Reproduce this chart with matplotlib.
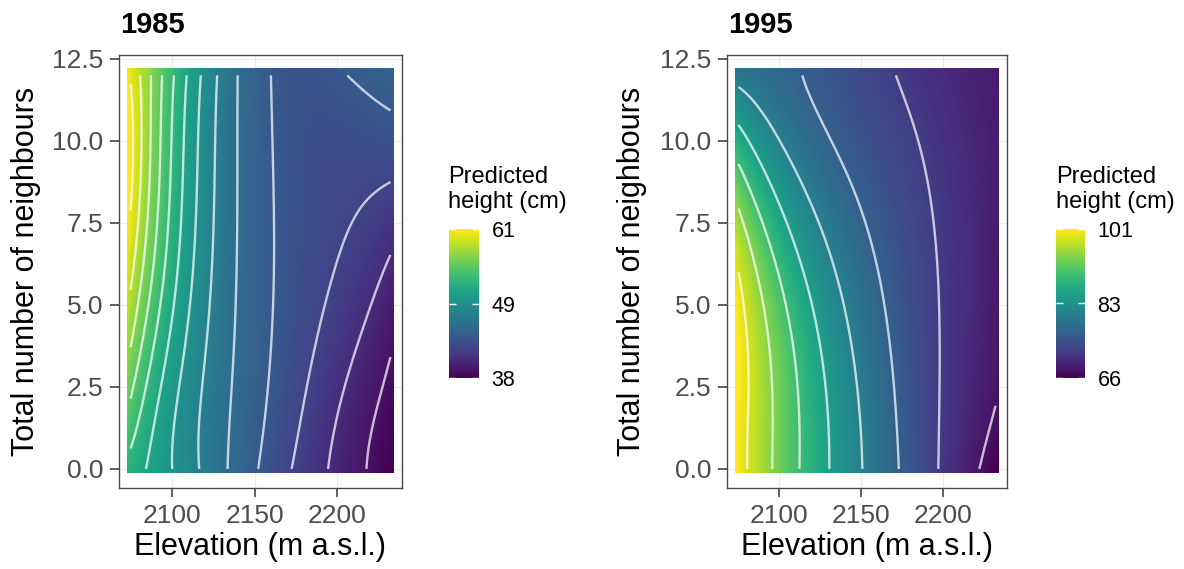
import numpy as np
import matplotlib
matplotlib.use("Agg")
import matplotlib.pyplot as plt
from matplotlib import cm, colors
from numpy.polynomial import polynomial as P

plt.rcParams['font.family'] = ['Liberation Sans', 'DejaVu Sans']

# prediction grid: elevation (m a.s.l.) x total number of neighbours
elevation = [2075, 2100, 2125, 2150, 2175, 2200, 2232]
neighbours = [0, 2.5, 5, 7.5, 10, 12]

# predicted height (cm), one row per neighbour value
height_1985 = [
    [52.3, 49.5, 46.9, 44.4, 42.3, 40.3, 37.9],
    [55.1, 50.1, 47.1, 44.9, 42.9, 41.2, 38.6],
    [57.9, 51.7, 47.1, 45.1, 43.6, 41.8, 39.9],
    [59.6, 52.7, 47.5, 45.2, 43.7, 42.8, 41.4],
    [60.6, 53.0, 47.75, 45.1, 43.6, 43.2, 43.6],
    [59.8, 53.3, 48.1, 45.0, 43.7, 44.1, 44.9],
]
height_1995 = [
    [100.7, 93.25, 86.85, 81.2, 76.05, 71.5, 65.7],
    [101.0, 93.2, 86.1, 80.35, 75.55, 71.7, 67.8],
    [100.3, 91.2, 84.6, 79.2, 74.95, 71.7, 68.3],
    [95.7, 86.9, 80.3, 76.6, 73.9, 71.4, 68.5],
    [87.4, 81.0, 77.5, 74.95, 72.75, 70.85, 68.5],
    [79.7, 77.6, 75.6, 73.6, 71.6, 70.1, 68.3],
]

# contour breaks
levels_1985 = np.linspace(39, 60, 13)
levels_1995 = np.linspace(67.5, 99, 8)

W, H = 1184, 569
fig = plt.figure(figsize=(W / 100, H / 100), dpi=100)


def box(left, top, right, bottom):
    return [left / W, 1 - bottom / H, (right - left) / W, (bottom - top) / H]


def surface(z):
    """Smooth (4,4) polynomial surface through the grid values."""
    z = np.asarray(z, dtype=float)
    e = np.asarray(elevation, dtype=float)
    n = np.asarray(neighbours, dtype=float)
    ec, es = (e.min() + e.max()) / 2, (e.max() - e.min()) / 2
    nc, ns = (n.min() + n.max()) / 2, (n.max() - n.min()) / 2
    E, N = np.meshgrid(e, n)
    A = P.polyvander2d(((E - ec) / es).ravel(), ((N - nc) / ns).ravel(), [4, 4])
    coef = np.linalg.lstsq(A, z.ravel(), rcond=None)[0].reshape(5, 5)
    return lambda x, y: P.polyval2d((x - ec) / es, (y - nc) / ns, coef)


def panel(ax, cax, z, levels, title, title_x, legend_x):
    f = surface(z)
    lo, hi = np.min(z), np.max(z)
    norm = colors.Normalize(lo, hi)

    # raster cells reach half a cell past the outer grid values
    ext = [elevation[0] - 2, elevation[-1] + 2, neighbours[0] - 0.12, neighbours[-1] + 0.2]
    xr = np.linspace(ext[0], ext[1], 320)
    yr = np.linspace(ext[2], ext[3], 320)
    XR, YR = np.meshgrid(xr, yr)
    ax.imshow(f(XR, YR), extent=ext, origin='lower', aspect='auto', cmap='viridis',
              norm=norm, interpolation='bilinear', zorder=2)

    xc = np.linspace(elevation[0], elevation[-1], 300)
    yc = np.linspace(neighbours[0], neighbours[-1], 300)
    XC, YC = np.meshgrid(xc, yc)
    ax.contour(XC, YC, f(XC, YC), levels=levels, colors='white', linewidths=1.7,
               alpha=0.72, zorder=3)

    ax.set_xlim(2068, 2239)
    ax.set_ylim(-0.58, 12.62)
    ax.set_xticks([2100, 2150, 2200])
    ax.set_yticks([0, 2.5, 5, 7.5, 10, 12.5])
    ax.set_yticklabels(['0.0', '2.5', '5.0', '7.5', '10.0', '12.5'])
    ax.grid(color='#ebebeb', linewidth=0.9, zorder=0)
    ax.set_axisbelow(True)
    for s in ax.spines.values():
        s.set_color('#4a4a4a')
        s.set_linewidth(1.0)
    ax.tick_params(length=6.5, width=1.1, color='#333333', labelcolor='#4d4d4d',
                   labelsize=19, pad=5)

    fig.text(title_x / W, 1 - 33 / H, title, fontsize=21, fontweight='bold',
             ha='left', va='baseline')

    sm = cm.ScalarMappable(norm=norm, cmap='viridis')
    cb = fig.colorbar(sm, cax=cax)
    ticks = [lo, (lo + hi) / 2, hi]
    cb.set_ticks(ticks)
    cb.set_ticklabels([f'{t:.0f}' for t in ticks])
    cb.minorticks_off()
    cb.outline.set_visible(False)
    cax.tick_params(left=True, right=True, direction='in', color='white',
                    length=5, width=1, labelsize=15.5, pad=9)
    fig.text(legend_x / W, 1 - 166 / H, 'Predicted\nheight (cm)', fontsize=17,
             ha='left', va='top', linespacing=1.15)


ax1 = fig.add_axes(box(119, 55, 402, 488))
cax1 = fig.add_axes(box(449, 229, 479, 378))
ax2 = fig.add_axes(box(727, 55, 1007, 488))
cax2 = fig.add_axes(box(1056, 229, 1085, 378))

panel(ax1, cax1, height_1985, levels_1985, '1985', 120, 448)
panel(ax2, cax2, height_1995, levels_1995, '1995', 728, 1056)

for cx, lx in [((119 + 402) / 2, 26), ((727 + 1007) / 2, 632)]:
    fig.text(cx / W, 1 - 547 / H, 'Elevation (m a.s.l.)', fontsize=22,
             ha='center', va='center')
    fig.text(lx / W, 1 - 271 / H, 'Total number of neighbours', fontsize=22,
             rotation=90, ha='center', va='center')

fig.savefig('out.png', dpi=100)
